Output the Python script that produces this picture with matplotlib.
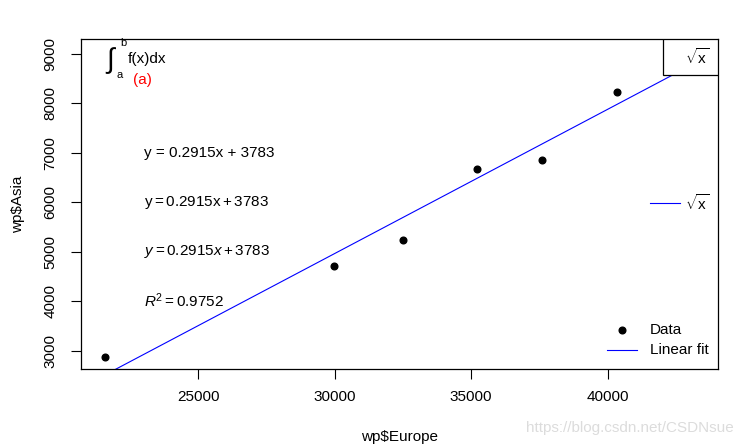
import numpy as np
import matplotlib
matplotlib.use("Agg")
import matplotlib.pyplot as plt
from matplotlib.patches import Rectangle

plt.rcParams['font.family'] = ['Liberation Sans', 'DejaVu Sans']
plt.rcParams['mathtext.fontset'] = 'custom'
plt.rcParams['mathtext.rm'] = 'Liberation Sans'
plt.rcParams['mathtext.it'] = 'Liberation Sans:italic'
plt.rcParams['mathtext.sf'] = 'Liberation Sans'

# WorldPhones: Europe vs Asia
europe = [21574, 29990, 32510, 35218, 37598, 40341, 43173]
asia = [2876, 4708, 5230, 6662, 6856, 8220, 9053]
x_ticks = [25000, 30000, 35000, 40000]
y_ticks = [3000, 4000, 5000, 6000, 7000, 8000, 9000]

europe = np.array(europe)
asia = np.array(asia)
slope, intercept = np.polyfit(europe, asia, 1)

fs = 11
fig = plt.figure(figsize=(7.37, 4.46), dpi=100)
ax = fig.add_axes([0.110, 0.1726, 0.864, 0.74])

# R style 4% padding
xr = europe.max() - europe.min()
yr = asia.max() - asia.min()
xlim = (europe.min() - 0.04 * xr, europe.max() + 0.04 * xr)
ylim = (asia.min() - 0.04 * yr, asia.max() + 0.04 * yr)

ax.plot(europe, asia, 'o', color='black', markersize=4.8, zorder=3)
xs = np.array(xlim)
ax.plot(xs, slope * xs + intercept, color='blue', lw=0.8, zorder=2)
ax.set_xlim(xlim)
ax.set_ylim(ylim)

ax.set_xticks(x_ticks)
ax.set_yticks(y_ticks)
ax.set_xticklabels([str(t) for t in x_ticks], fontsize=fs)
ax.set_yticklabels([str(t) for t in y_ticks], fontsize=fs, rotation=90, va='center')
ax.tick_params(length=7, width=0.8, color='black')
ax.tick_params(axis='x', pad=8)
ax.tick_params(axis='y', pad=10)
for s in ax.spines.values():
    s.set_linewidth(0.9)

ax.set_xlabel('wp$Europe', fontsize=fs)
ax.set_ylabel('wp$Asia', fontsize=fs)
ax.xaxis.set_label_coords(0.5, -61 / 330, transform=ax.transAxes)
ax.yaxis.set_label_coords(-56 / 637, 0.5, transform=ax.transAxes)

# equations
ax.text(23000, 7000, 'y = 0.2915x + 3783', fontsize=fs, va='center', ha='left')
ax.text(23000, 6000, r'$\mathrm{y = 0.2915x + 3783}$', fontsize=fs, va='center', ha='left')
ax.text(23000, 5000, r'$y = 0.2915x + 3783$', fontsize=fs, va='center', ha='left')
ax.text(23000, 4000, r'$R^2 = \mathrm{0.9752}$', fontsize=fs, va='center', ha='left')

# integral, top left
tr = ax.transAxes
ax.text(0.0455, 0.935, '\u222b', fontsize=20, transform=tr, va='center', ha='center')
ax.text(0.066, 0.988, 'b', fontsize=8, transform=tr, va='center', ha='center')
ax.text(0.060, 0.891, 'a', fontsize=8, transform=tr, va='center', ha='center')
ax.text(0.074, 0.939, 'f(x)dx', fontsize=fs, transform=tr, va='center', ha='left')
ax.text(0.082, 0.876, '(a)', color='red', fontsize=fs, transform=tr, va='center', ha='left')

# top right boxed legend
ax.add_patch(Rectangle((0.914, 0.891), 0.086, 0.109, transform=tr,
                       facecolor='white', edgecolor='black', lw=0.9, zorder=5))
ax.text(0.948, 0.945, r'$\sqrt{\mathrm{x}}$', fontsize=fs, transform=tr,
        va='center', ha='left', zorder=6)

# right legend
ax.plot([0.893, 0.940], [0.503, 0.503], color='blue', lw=0.8, transform=tr)
ax.text(0.948, 0.503, r'$\sqrt{\mathrm{x}}$', fontsize=fs, transform=tr,
        va='center', ha='left')

# bottom right legend
ax.plot([0.849], [0.118], 'o', color='black', markersize=4.8, transform=tr)
ax.text(0.893, 0.118, 'Data', fontsize=fs, transform=tr, va='center', ha='left')
ax.plot([0.826, 0.873], [0.058, 0.058], color='blue', lw=0.8, transform=tr)
ax.text(0.893, 0.058, 'Linear fit', fontsize=fs, transform=tr, va='center', ha='left')

fig.text(0.995, 0.04, 'https://blog.csdn.net/CSDNsue', fontsize=fs, color='#dcdcdc',
         ha='right', va='center')

fig.savefig('out.png', dpi=100)
